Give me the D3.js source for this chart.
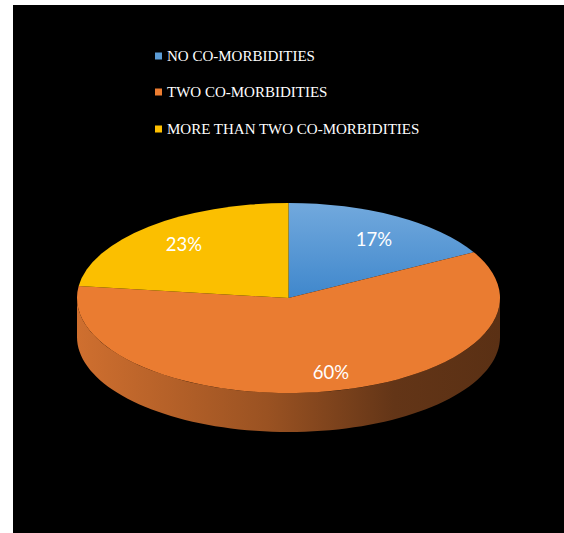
<!DOCTYPE html>
<html>
<head>
<meta charset="utf-8">
<script src="https://cdn.jsdelivr.net/npm/d3@7"></script>
<style>
  html, body { margin: 0; padding: 0; background: #ffffff; }
  svg { display: block; }
</style>
</head>
<body>
<svg id="chart" width="564" height="533"></svg>
<script>
// Share of patients by number of co-morbidities
const categories = ["NO CO-MORBIDITIES", "TWO CO-MORBIDITIES", "MORE THAN TWO CO-MORBIDITIES"];
const values = [17, 60, 23];
const labels = ["17%", "60%", "23%"];
const colors = ["#5B9BD5", "#ED7D31", "#FFC000"];

const svg = d3.select("#chart");
const W = 564, H = 533;

// black chart area
svg.append("rect").attr("x", 13).attr("y", 5).attr("width", W - 13).attr("height", H - 5).attr("fill", "#000");

const defs = svg.append("defs");
const gBlue = defs.append("linearGradient").attr("id", "topBlue").attr("x1", 0).attr("y1", 0).attr("x2", 0).attr("y2", 1);
gBlue.append("stop").attr("offset", "0%").attr("stop-color", "#72A9DD");
gBlue.append("stop").attr("offset", "100%").attr("stop-color", "#3F87CC");

const gSide = defs.append("linearGradient").attr("id", "sideOrange")
  .attr("gradientUnits", "userSpaceOnUse").attr("x1", 77).attr("y1", 0).attr("x2", 500).attr("y2", 0);
gSide.append("stop").attr("offset", "0%").attr("stop-color", "#CF6F2F");
gSide.append("stop").attr("offset", "45%").attr("stop-color", "#9A5222");
gSide.append("stop").attr("offset", "75%").attr("stop-color", "#633517");
gSide.append("stop").attr("offset", "100%").attr("stop-color", "#5A3014");

const topFills = ["url(#topBlue)", "#EA7C31", "#FBBF00"];
const sideFills = ["#3A6E9E", "url(#sideOrange)", "#B58A00"];

// pie geometry (ellipse projected)
const cx = 288.5, cy = 298, rx = 211.5, ry = 95, depth = 39;
const k = ry / rx;

const pie = d3.pie().sort(null).value(d => d)(values);
const arc = d3.arc().innerRadius(0).outerRadius(rx);

const pt = (a, dy) => [cx + rx * Math.sin(a), cy - ry * Math.cos(a) + dy];

// side walls: visible part of each slice lying in the front half
const sideG = svg.append("g");
pie.forEach((p, i) => {
  const a0 = Math.max(p.startAngle, Math.PI / 2);
  const a1 = Math.min(p.endAngle, 3 * Math.PI / 2);
  if (a1 <= a0) return;
  const n = 80;
  const top = d3.range(n + 1).map(j => pt(a0 + (a1 - a0) * j / n, 0));
  const bot = d3.range(n + 1).map(j => pt(a1 - (a1 - a0) * j / n, depth));
  sideG.append("path")
    .attr("d", d3.line()(top.concat(bot)) + "Z")
    .attr("fill", sideFills[i]);
});

// top surface
const topG = svg.append("g").attr("transform", `translate(${cx},${cy}) scale(1,${k})`);
topG.selectAll("path").data(pie).join("path")
  .attr("d", arc)
  .attr("fill", (d, i) => topFills[i]);

// data labels
const labelPos = [[374, 241], [331, 374], [184, 246]];
svg.append("g").selectAll("text").data(pie).join("text")
  .attr("x", (d, i) => labelPos[i][0])
  .attr("y", (d, i) => labelPos[i][1])
  .attr("text-anchor", "middle")
  .attr("dominant-baseline", "middle")
  .attr("fill", "#fff")
  .attr("font-family", "Lato, 'Open Sans', sans-serif")
  .attr("font-size", 18.5)
  .text((d, i) => labels[i]);

// legend
const legend = svg.append("g");
const rowsY = [61, 97, 134];
categories.forEach((c, i) => {
  legend.append("rect").attr("x", 155).attr("y", rowsY[i] - 8.5).attr("width", 7).attr("height", 7).attr("fill", colors[i]);
  legend.append("text")
    .attr("x", 167).attr("y", rowsY[i])
    .attr("fill", "#fff")
    .attr("font-family", "'Liberation Serif', 'DejaVu Serif', serif")
    .attr("font-size", 15)
    .text(c);
});
</script>
</body>
</html>
